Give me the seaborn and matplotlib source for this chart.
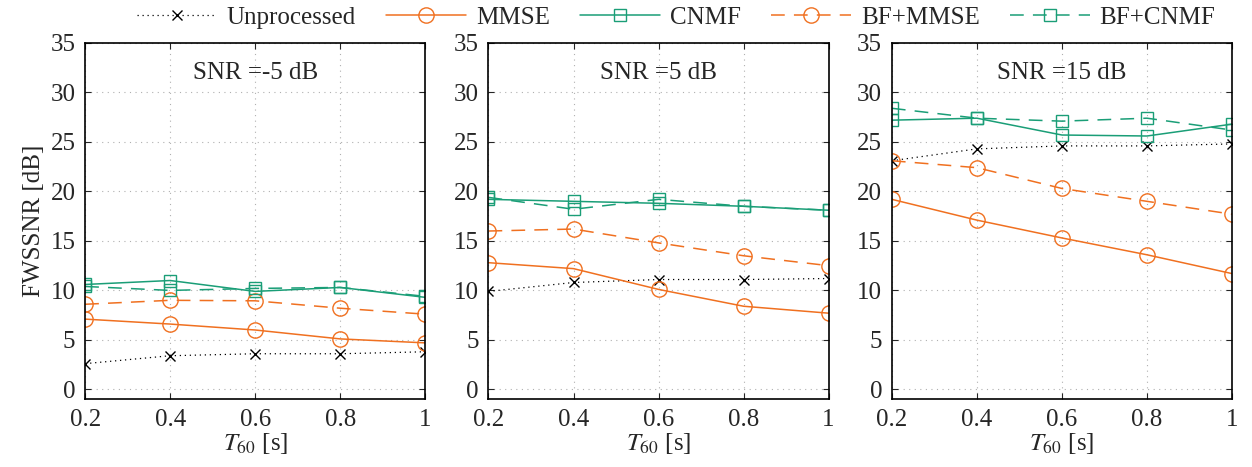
import numpy as np
import pandas as pd
import matplotlib
matplotlib.use("Agg")
import matplotlib.pyplot as plt
import seaborn as sns

t60 = [0.2, 0.4, 0.6, 0.8, 1.0]
snr_titles = ["SNR =-5 dB", "SNR =5 dB", "SNR =15 dB"]
series_names = ["Unprocessed", "MMSE", "CNMF", "BF+MMSE", "BF+CNMF"]

unproc = [[2.6, 3.4, 3.6, 3.6, 3.8],
          [9.9, 10.8, 11.1, 11.1, 11.2],
          [23.1, 24.3, 24.6, 24.6, 24.8]]
mmse = [[7.1, 6.6, 6.0, 5.1, 4.7],
        [12.8, 12.2, 10.1, 8.4, 7.7],
        [19.2, 17.1, 15.3, 13.6, 11.7]]
cnmf = [[10.6, 11.0, 9.9, 10.3, 9.3],
        [19.2, 19.0, 18.8, 18.5, 18.1],
        [27.2, 27.4, 25.7, 25.6, 26.8]]
bf_mmse = [[8.6, 9.0, 8.95, 8.2, 7.6],
           [16.0, 16.2, 14.8, 13.5, 12.5],
           [23.1, 22.4, 20.3, 19.0, 17.7]]
bf_cnmf = [[10.4, 10.0, 10.2, 10.3, 9.4],
           [19.4, 18.2, 19.2, 18.5, 18.1],
           [28.4, 27.4, 27.1, 27.4, 26.2]]

yticks = [0, 5, 10, 15, 20, 25, 30, 35]
xticks = [0.2, 0.4, 0.6, 0.8, 1.0]
xticklabels = ["0.2", "0.4", "0.6", "0.8", "1"]

sns.set_style("ticks")
plt.rcParams["font.serif"] = ["Liberation Serif", "DejaVu Serif"]
plt.rcParams["font.family"] = ["Liberation Serif", "DejaVu Serif"]
plt.rcParams["mathtext.fontset"] = "stix"
plt.rcParams["font.size"] = 18

orange = "#f07020"
teal = "#1a9e77"
dash = (0, (9, 6))

styles = {
    "Unprocessed": dict(color="black", ls=(0, (1, 3)), marker="x", ms=7, lw=0.9),
    "MMSE": dict(color=orange, ls="-", marker="o", ms=11, lw=1.1),
    "CNMF": dict(color=teal, ls="-", marker="s", ms=9, lw=1.1),
    "BF+MMSE": dict(color=orange, ls=dash, marker="o", ms=11, lw=1.1),
    "BF+CNMF": dict(color=teal, ls=dash, marker="s", ms=9, lw=1.1),
}

fig, axes = plt.subplots(1, 3, figsize=(12.52, 4.67), dpi=100)
fig.subplots_adjust(left=0.068, right=0.984, top=0.908, bottom=0.145, wspace=0.186)

data_sets = {"Unprocessed": unproc, "MMSE": mmse, "CNMF": cnmf,
             "BF+MMSE": bf_mmse, "BF+CNMF": bf_cnmf}

legend_handles = []
for i, ax in enumerate(axes):
    for name in series_names:
        st = styles[name]
        df = pd.DataFrame({"T60": t60, "val": data_sets[name][i]})
        sns.lineplot(data=df, x="T60", y="val", ax=ax, legend=False,
                     color=st["color"])
        ln = ax.lines[-1]
        ln.set_linestyle(st["ls"])
        ln.set_linewidth(st["lw"])
        ln.set_marker(st["marker"])
        ln.set_markersize(st["ms"])
        ln.set_markerfacecolor("none")
        ln.set_markeredgecolor(st["color"])
        ln.set_markeredgewidth(1.0)
        ln.set_label(name)
        if i == 0:
            legend_handles.append(ln)
    ax.set_xlim(0.2, 1.0)
    ax.set_ylim(-1, 35)
    ax.set_xticks(xticks)
    ax.set_xticklabels(xticklabels)
    ax.set_yticks(yticks)
    ax.grid(True, linestyle=(0, (1, 4)), color="#b0b0b0", lw=0.8)
    ax.tick_params(direction="in", top=True, right=True, length=4, width=0.8,
                   labelsize=18, pad=7)
    for sp in ax.spines.values():
        sp.set_visible(True)
        sp.set_linewidth(1.2)
        sp.set_color("black")
    ax.set_xlabel(r"$T_{60}$ [s]", fontsize=18, labelpad=0)
    ax.set_ylabel("FWSSNR [dB]" if i == 0 else "", fontsize=18)
    ax.text(0.5, 0.915, snr_titles[i], transform=ax.transAxes,
            ha="center", va="center", fontsize=18)

fig.legend(legend_handles, series_names, loc="upper center",
           bbox_to_anchor=(0.54, 1.035), ncol=5, frameon=False, fontsize=18,
           handlelength=3.2, columnspacing=1.2, handletextpad=0.4)

fig.savefig("out.png", dpi=100)
